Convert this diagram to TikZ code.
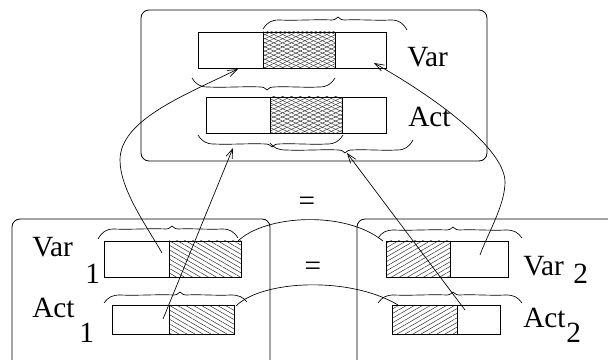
\documentclass[tikz,border=0pt]{standalone}
\usepackage{fontspec}
\setmainfont{Liberation Serif}
\usetikzlibrary{patterns.meta,arrows.meta}
\newcommand{\mybrace}[7]{%
 \draw[bracestyle] (#1,#2) .. controls (#1+4,{#2+0.7*(#4-#2)}) and (#1+8,#4) .. (#1+16,#4)
 .. controls ({#1+16+(#3-#1-22)/3},{#4+0.8}) and ({#1+16+2*(#3-#1-22)/3},{#4-0.8}) .. (#3-6,#4)
 .. controls (#3-2,#4) and (#3-1,#5) .. (#3,#5)
 .. controls (#3+1,#5) and (#3+2,#4) .. (#3+6,#4)
 .. controls ({#3+6+(#6-#3-22)/3},{#4-0.8}) and ({#3+6+2*(#6-#3-22)/3},{#4+0.8}) .. (#6-16,#4)
 .. controls (#6-8,#4) and (#6-4,{#7+0.7*(#4-#7)}) .. (#6,#7);}
\tikzset{
  frame/.style={line width=0.6pt, rounded corners=6pt},
  bar/.style={line width=0.6pt},
  bracestyle/.style={line width=0.5pt},
  conn/.style={line width=0.5pt, -{Straight Barb[length=7pt,width=5pt]}},
  plain/.style={line width=0.5pt},
  lbl/.style={inner sep=0pt, anchor=base west, font=\fontsize{22}{24}\selectfont},
  eq/.style={inner sep=0pt, font=\fontsize{22}{24}\selectfont},
  xhatchA/.style={pattern={Lines[angle=25,distance=2.8pt,line width=0.35pt]}, pattern color=black!80},
  xhatchB/.style={pattern={Lines[angle=-25,distance=2.8pt,line width=0.35pt]}, pattern color=black!80},
  nwhatch/.style={pattern={Lines[angle=-30,distance=3pt,line width=0.35pt]}, pattern color=black!85},
  nehatch/.style={pattern={Lines[angle=30,distance=3pt,line width=0.35pt]}, pattern color=black!85},
}
\begin{document}
\begin{tikzpicture}[x=0.75pt,y=-0.75pt]
\useasboundingbox (0,0) rectangle (608,360);
\clip (0,0) rectangle (608,360);
% frames
\draw[frame] (141,10) rectangle (487,161);
\draw[frame] (12,219) rectangle (270,372);
\draw[frame] (357,219) rectangle (650,372);
% top bars
\fill[xhatchA] (263,32) rectangle (335,68);
\fill[xhatchB] (263,32) rectangle (335,68);
\draw[bar] (198,32) rectangle (386,68);
\draw[bar] (263,32) -- (263,68) (335,32) -- (335,68);
\fill[xhatchA] (270,97) rectangle (342,133);
\fill[xhatchB] (270,97) rectangle (342,133);
\draw[bar] (206,97) rectangle (386,133);
\draw[bar] (270,97) -- (270,133) (342,97) -- (342,133);
% bottom-left bars
\fill[nwhatch] (169,241) rectangle (241,277);
\draw[bar] (104,241) rectangle (241,277);
\draw[bar] (169,241) -- (169,277);
\fill[nwhatch] (169,305) rectangle (234,334);
\draw[bar] (112,305) rectangle (234,334);
\draw[bar] (169,305) -- (169,334);
% bottom-right bars
\fill[nehatch] (386,241) rectangle (450,277);
\draw[bar] (386,241) rectangle (508,277);
\draw[bar] (450,241) -- (450,277);
\fill[nehatch] (392,305) rectangle (457,334);
\draw[bar] (392,305) rectangle (500,334);
\draw[bar] (457,305) -- (457,334);
% labels
\node[lbl] (var) at (407,67) {Var};
\node[lbl] (act) at (408,127) {Act};
\node[lbl] (var1) at (32,257) {Var};
\node[lbl] (var1s) at (85,283) {1};
\node[lbl] (act1) at (32,317) {Act};
\node[lbl] (act1s) at (79,342) {1};
\node[lbl] (var2) at (523,276) {Var};
\node[lbl] (var2s) at (573,283) {2};
\node[lbl] (act2) at (523,327) {Act};
\node[lbl] (act2s) at (566,342) {2};
\node[eq] (eq1) at (307,204) {=};
\node[eq] (eq2) at (313,269) {=};
% braces
\mybrace{263}{29}{338}{20}{17}{407}{30}
\mybrace{192}{78}{267}{87}{90}{335}{78}
\mybrace{198}{135}{272}{144}{147}{343}{135}
\mybrace{270}{143}{345}{150}{153}{413}{140}
\mybrace{98}{239}{172}{229}{226}{238}{238}
\mybrace{104}{303}{180}{295}{292}{247}{302}
\mybrace{378}{238}{453}{230}{227}{522}{238}
\mybrace{378}{303}{453}{295}{292}{522}{303}
% connector end points
\coordinate (s1) at (162,253);
\coordinate (m1) at (120,160);
\coordinate (t1) at (238,69);
\coordinate (s2) at (163,319);
\coordinate (t2) at (233,148);
\coordinate (s3) at (465,310);
\coordinate (t3) at (347,153);
\coordinate (s4) at (480,255);
\coordinate (m4) at (505,182);
\coordinate (t4) at (374,63);
\coordinate (a1) at (238,241);
\coordinate (b1) at (383,241);
\coordinate (a2) at (236,306);
\coordinate (b2) at (398,305);
% connectors
\draw[conn] (s1) .. controls (148,228) and (120,190) .. (m1)
  .. controls (120,120) and (185,95) .. (t1);
\draw[conn] (s2) -- (t2);
\draw[conn] (s3) -- (t3);
\draw[conn] (s4) .. controls (488,233) and (505,205) .. (m4)
  .. controls (505,150) and (440,100) .. (t4);
\draw[plain] (a1) .. controls (265,215) and (345,210) .. (b1);
\draw[plain] (a2) .. controls (262,280) and (350,276) .. (b2);
\end{tikzpicture}
\end{document}
